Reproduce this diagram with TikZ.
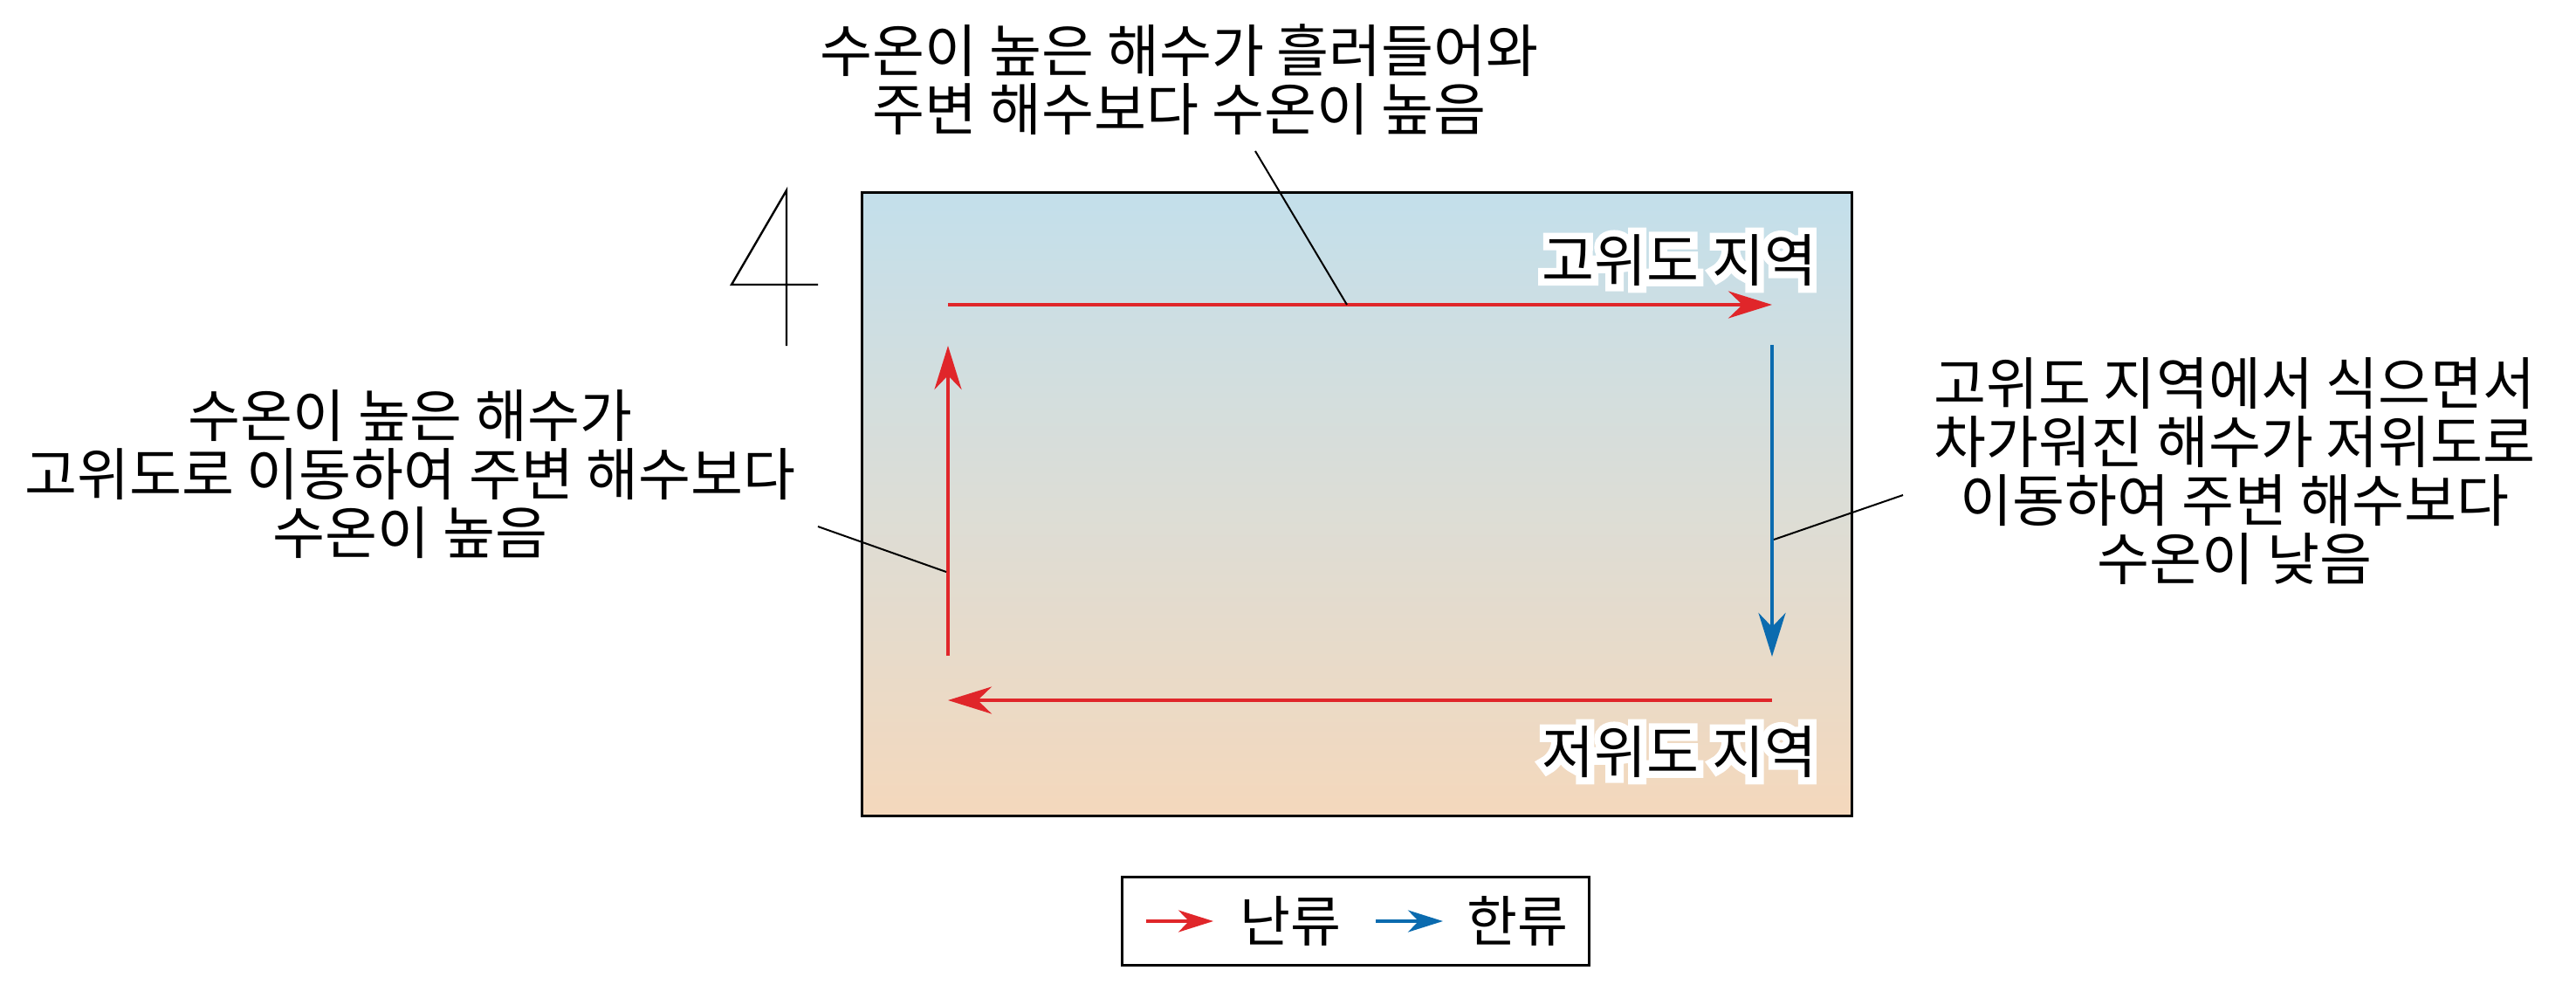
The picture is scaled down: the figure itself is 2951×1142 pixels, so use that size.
\documentclass[tikz,border=0pt]{standalone}
\usepackage{fontspec}
\newfontfamily\kr{Noto Sans CJK KR}
\newfontfamily\krhalo[FakeBold=24]{Noto Sans CJK KR}
\usetikzlibrary{arrows.meta}
\definecolor{warmred}{HTML}{E0262A}
\definecolor{coldblue}{HTML}{0B6BAF}
\definecolor{seatop}{HTML}{C3DFEB}
\definecolor{seamid}{HTML}{DCDDD6}
\definecolor{seabot}{HTML}{F4D8BC}
\tikzset{
  txt/.style={font=\kr\fontsize{32.6}{33.5}\selectfont, inner sep=0pt, align=center},
  region/.style={font=\kr\fontsize{32.6}{33.5}\selectfont, inner sep=0pt},
  regionhalo/.style={font=\krhalo\fontsize{32.6}{33.5}\selectfont, inner sep=0pt, text=white},
  legtxt/.style={font=\kr\fontsize{31.5}{33.5}\selectfont, inner sep=0pt},
  flow/.style={line width=2pt, -{Stealth[length=25pt,width=15.5pt,inset=8pt]}},
  legflow/.style={line width=2pt, -{Stealth[length=20pt,width=12.5pt,inset=6pt]}},
  leader/.style={line width=1pt, black},
}
\newcommand\halolabel[3]{%
  \node[regionhalo] at (#2) {#3};
  \node[region] (#1) at (#2) {#3};
}
\begin{document}
\begin{tikzpicture}[x=0.5pt,y=-0.5pt]
\useasboundingbox (0,0) rectangle (2951,1142);
% sea box
\coordinate (boxnw) at (987,220);
\coordinate (boxse) at (2121,934);
\shade[top color=seatop, bottom color=seabot, middle color=seamid] (boxnw) rectangle (boxse);
\draw[line width=1.5pt] (boxnw) rectangle (boxse);
% the "4"
\coordinate (f1) at (901,218);
\coordinate (f2) at (838,326);
\coordinate (f3) at (937,326);
\coordinate (f4) at (901,396);
\draw[line width=1.2pt, line join=miter] (f3) -- (f2) -- (f1) -- (f4);
% current corners
\coordinate (a) at (1086,349);
\coordinate (b) at (2030,349);
\coordinate (c) at (2030,395);
\coordinate (d) at (2030,752);
\coordinate (e) at (2030,802);
\coordinate (f) at (1086,802);
\coordinate (g) at (1086,751);
\coordinate (h) at (1086,396);
\draw[flow, warmred] (a) -- (b);
\draw[flow, coldblue] (c) -- (d);
\draw[flow, warmred] (e) -- (f);
\draw[flow, warmred] (g) -- (h);
% region labels
\halolabel{high}{1924,298}{고위도 지역}
\halolabel{low}{1924,861}{저위도 지역}
% explanations
\node[txt] (toptxt) at (1351,91) {수온이 높은 해수가 흘러들어와\\주변 해수보다 수온이 높음};
\node[txt] (lefttxt) at (470,543) {수온이 높은 해수가\\고위도로 이동하여 주변 해수보다\\수온이 높음};
\node[txt] (righttxt) at (2560,540) {고위도 지역에서 식으면서\\차가워진 해수가 저위도로\\이동하여 주변 해수보다\\수온이 낮음};
% leaders
\coordinate (t1) at (1438,173);
\coordinate (t2) at (1543,349);
\coordinate (l1) at (937,603);
\coordinate (l2) at (1084,655);
\coordinate (r1) at (2180,567);
\coordinate (r2) at (2032,618);
\draw[leader] (t1) -- (t2);
\draw[leader] (l1) -- (l2);
\draw[leader] (r1) -- (r2);
% legend
\node[draw, line width=1.2pt, minimum width=535*0.5pt, minimum height=101*0.5pt, inner sep=0pt] (legend) at (1553,1055) {};
\coordinate (lr1) at (1313,1055);
\coordinate (lr2) at (1390,1055);
\coordinate (lb1) at (1576,1055);
\coordinate (lb2) at (1653,1055);
\draw[legflow, warmred] (lr1) -- (lr2);
\draw[legflow, coldblue] (lb1) -- (lb2);
\node[legtxt] (warm) at (1478,1055) {난류};
\node[legtxt] (cold) at (1738,1055) {한류};
\end{tikzpicture}
\end{document}
